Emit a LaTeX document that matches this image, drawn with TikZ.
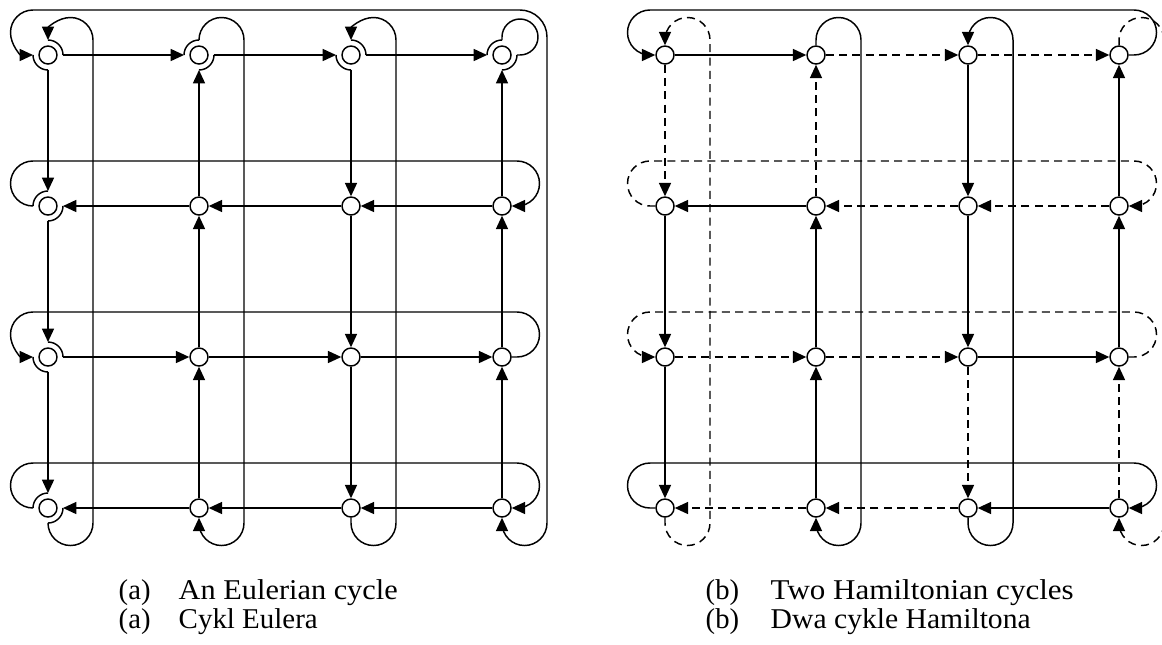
\documentclass[tikz,border=0pt]{standalone}
\usepackage{fontspec}
\setmainfont{Liberation Serif}
\usetikzlibrary{arrows.meta,calc}
\begin{document}
\begin{tikzpicture}[x=0.75pt, y=-0.75pt, line width=1.1pt,
  vtx/.style={circle, draw, fill=white, minimum size=13.5pt, inner sep=0pt},
  arr/.style={-{Triangle[length=10pt,width=9pt]}},
  arr2/.style={{Triangle[length=10pt,width=9pt]}-{Triangle[length=10pt,width=9pt]}},
  dsh/.style={dash pattern=on 6pt off 4pt},
  captext/.style={anchor=base west, inner sep=0pt, font=\fontsize{21.5pt}{25pt}\selectfont}]
\path[use as bounding box] (0,0) rectangle (1162,644);
\clip (0,0) rectangle (1162,644);

% ---------- nodes ----------
\foreach \rw/\yy in {1/55,2/206,3/357,4/508}{
  \foreach \cl/\xx in {1/48,2/199,3/351,4/502}{
    \node[vtx] (a\rw\cl) at (\xx,\yy) {};
    \coordinate (a\rw\cl W) at (\xx-15,\yy);
    \coordinate (a\rw\cl E) at (\xx+15,\yy);
    \coordinate (a\rw\cl N) at (\xx,\yy-15);
    \coordinate (a\rw\cl S) at (\xx,\yy+15);
  }
  \foreach \cl/\xx in {1/665,2/816,3/968,4/1119}{
    \node[vtx] (b\rw\cl) at (\xx,\yy) {};
  }
}

% ---------- (a) split arcs ----------
\draw (a11W) arc[start angle=180, end angle=90, radius=15];
\draw (a11N) arc[start angle=-90, end angle=0, radius=15];
\draw (a12W) arc[start angle=180, end angle=270, radius=15];
\draw (a12E) arc[start angle=0, end angle=90, radius=15];
\draw (a13W) arc[start angle=180, end angle=90, radius=15];
\draw (a13N) arc[start angle=-90, end angle=0, radius=15];
\draw (a14W) arc[start angle=180, end angle=270, radius=15];
\draw (a14E) arc[start angle=0, end angle=90, radius=15];
\draw (a14N) -- ++(0,-3) arc[start angle=180, end angle=450, radius=18] -- (a14E);
\draw (a21W) arc[start angle=180, end angle=270, radius=15];
\draw (a21E) arc[start angle=0, end angle=90, radius=15];
\draw (a31N) arc[start angle=-90, end angle=0, radius=15];
\draw (a31W) arc[start angle=180, end angle=90, radius=15];
\draw (a41W) arc[start angle=180, end angle=270, radius=15];
\draw (a41E) arc[start angle=0, end angle=90, radius=15];

% ---------- (a) straight edges ----------
\draw[arr] (a11E) -- (a12W);
\draw[arr] (a12E) -- (a13W);
\draw[arr] (a13E) -- (a14W);
\draw[arr] (a24) -- (a23);
\draw[arr] (a23) -- (a22);
\draw[arr] (a22) -- (a21E);
\draw[arr] (a31E) -- (a32);
\draw[arr] (a32) -- (a33);
\draw[arr] (a33) -- (a34);
\draw[arr] (a44) -- (a43);
\draw[arr] (a43) -- (a42);
\draw[arr] (a42) -- (a41E);
\draw[arr] (a11S) -- (a21N);
\draw[arr] (a21S) -- (a31N);
\draw[arr] (a31S) -- (a41N);
\draw[arr] (a42) -- (a32);
\draw[arr] (a32) -- (a22);
\draw[arr] (a22) -- (a12S);
\draw[arr] (a13S) -- (a23);
\draw[arr] (a23) -- (a33);
\draw[arr] (a33) -- (a43);
\draw[arr] (a44) -- (a34);
\draw[arr] (a34) -- (a24);
\draw[arr] (a24) -- (a14S);

% ---------- (a) wrap-around edges ----------
\draw[arr2] (a44.south) -- (a44S) arc[start angle=180, end angle=0, radius=22.5]
  -- ($(a14)+(45,-18)$) arc[start angle=0, end angle=-90, radius=27]
  -- ($(a11)+(-15,-45)$) arc[start angle=-90, end angle=-270, radius=22.5];
\draw[arr] (a21W) arc[start angle=90, end angle=270, radius=22.5]
  -- ($(a24)+(15,-45)$) arc[start angle=-90, end angle=90, radius=22.5] -- (a24.east);
\draw[arr] (a34.east) -- ($(a34)+(15,0)$) arc[start angle=90, end angle=-90, radius=22.5]
  -- ($(a31)+(-15,-45)$) arc[start angle=-90, end angle=-270, radius=22.5];
\draw[arr] (a41W) arc[start angle=90, end angle=270, radius=22.5]
  -- ($(a44)+(15,-45)$) arc[start angle=-90, end angle=90, radius=22.5] -- (a44.east);
\draw[arr] (a41S) arc[start angle=180, end angle=0, radius=22.5]
  -- ($(a11)+(45,-15)$) arc[start angle=0, end angle=-180, radius=22.5];
\draw[arr] (a12N) arc[start angle=180, end angle=360, radius=22.5]
  -- ($(a42)+(45,15)$) arc[start angle=0, end angle=180, radius=22.5] -- (a42.south);
\draw[arr] (a43.south) -- ($(a43)+(0,15)$) arc[start angle=180, end angle=0, radius=22.5]
  -- ($(a13)+(45,-15)$) arc[start angle=0, end angle=-180, radius=22.5];

% ---------- (b) straight edges: solid cycle ----------
\draw[arr] (b11) -- (b12);
\draw[arr] (b22) -- (b21);
\draw[arr] (b21) -- (b31);
\draw[arr] (b31) -- (b41);
\draw[arr] (b42) -- (b32);
\draw[arr] (b32) -- (b22);
\draw[arr] (b44) -- (b43);
\draw[arr] (b13) -- (b23);
\draw[arr] (b23) -- (b33);
\draw[arr] (b33) -- (b34);
\draw[arr] (b34) -- (b24);
\draw[arr] (b24) -- (b14);
% ---------- (b) straight edges: dashed cycle ----------
\draw[arr,dsh] (b11) -- (b21);
\draw[arr,dsh] (b12) -- (b13);
\draw[arr,dsh] (b13) -- (b14);
\draw[arr,dsh] (b22) -- (b12);
\draw[arr,dsh] (b23) -- (b22);
\draw[arr,dsh] (b24) -- (b23);
\draw[arr,dsh] (b31) -- (b32);
\draw[arr,dsh] (b32) -- (b33);
\draw[arr,dsh] (b33) -- (b43);
\draw[arr,dsh] (b44) -- (b34);
\draw[arr,dsh] (b43) -- (b42);
\draw[arr,dsh] (b42) -- (b41);

% ---------- (b) wrap-around edges ----------
\draw[arr] (b14.east) -- ($(b14)+(15,0)$) arc[start angle=90, end angle=-90, radius=22.5]
  -- ($(b11)+(-15,-45)$) arc[start angle=-90, end angle=-270, radius=22.5] -- (b11.west);
\draw[arr,dsh] (b21.west) -- ($(b21)+(-15,0)$) arc[start angle=90, end angle=270, radius=22.5]
  -- ($(b24)+(15,-45)$) arc[start angle=-90, end angle=90, radius=22.5] -- (b24.east);
\draw[arr,dsh] (b34.east) -- ($(b34)+(15,0)$) arc[start angle=90, end angle=-90, radius=22.5]
  -- ($(b31)+(-15,-45)$) arc[start angle=-90, end angle=-270, radius=22.5] -- (b31.west);
\draw[arr] (b41.west) -- ($(b41)+(-15,0)$) arc[start angle=90, end angle=270, radius=22.5]
  -- ($(b44)+(15,-45)$) arc[start angle=-90, end angle=90, radius=22.5] -- (b44.east);
\draw[arr,dsh] (b41.south) -- ($(b41)+(0,15)$) arc[start angle=180, end angle=0, radius=22.5]
  -- ($(b11)+(45,-15)$) arc[start angle=0, end angle=-180, radius=22.5] -- (b11.north);
\draw[arr] (b12.north) -- ($(b12)+(0,-15)$) arc[start angle=180, end angle=360, radius=22.5]
  -- ($(b42)+(45,15)$) arc[start angle=0, end angle=180, radius=22.5] -- (b42.south);
\draw[arr] (b43.south) -- ($(b43)+(0,15)$) arc[start angle=180, end angle=0, radius=22.5]
  -- ($(b13)+(45,-15)$) arc[start angle=0, end angle=-180, radius=22.5] -- (b13.north);
\draw[arr,dsh] (b14.north) -- ($(b14)+(0,-15)$) arc[start angle=180, end angle=360, radius=22.5]
  -- ($(b44)+(45,15)$) arc[start angle=0, end angle=180, radius=22.5] -- (b44.south);

% ---------- captions ----------
\node[captext] (la1) at (118,599) {(a)};
\node[captext] (ta1) at (178,599) {\resizebox{164.25pt}{\height}{An Eulerian cycle}};
\node[captext] (la2) at (118,628) {(a)};
\node[captext] (ta2) at (178,628) {\resizebox{104.25pt}{\height}{Cykl Eulera}};
\node[captext] (lb1) at (705,599) {(b)};
\node[captext] (tb1) at (770,599) {\resizebox{227.25pt}{\height}{Two Hamiltonian cycles}};
\node[captext] (lb2) at (705,628) {(b)};
\node[captext] (tb2) at (770,628) {\resizebox{195pt}{\height}{Dwa cykle Hamiltona}};
\end{tikzpicture}
\end{document}
